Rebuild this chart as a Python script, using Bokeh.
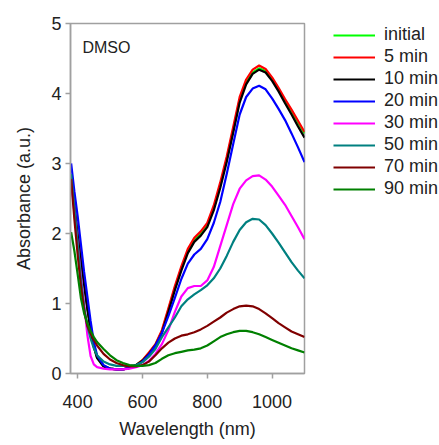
from bokeh.plotting import figure
from bokeh.layouts import row
from bokeh.models import Legend, LegendItem, Label, Range1d, FixedTicker
from bokeh.embed import file_html
from bokeh.resources import INLINE

wavelength = [380, 390, 400, 410, 420, 430, 440, 450, 460, 480, 500, 520, 540, 560, 580, 600,
              620, 640, 660, 680, 700, 720, 740, 760, 780, 800, 820, 840, 860, 880, 900, 920,
              940, 960, 980, 1000, 1020, 1040, 1060, 1080, 1100]

initial = [2.78, 2.38, 1.98, 1.63, 1.28, 0.93, 0.63, 0.39, 0.23, 0.11, 0.07, 0.06, 0.06, 0.08, 0.12, 0.19,
           0.29, 0.41, 0.60, 0.91, 1.22, 1.50, 1.75, 1.91, 2.00, 2.12, 2.36, 2.69, 3.06, 3.48, 3.91, 4.16,
           4.30, 4.36, 4.32, 4.21, 4.06, 3.90, 3.75, 3.59, 3.43]
min5 = [2.80, 2.40, 2.00, 1.65, 1.30, 0.95, 0.65, 0.40, 0.24, 0.11, 0.07, 0.06, 0.06, 0.08, 0.12, 0.19,
        0.30, 0.42, 0.62, 0.93, 1.25, 1.53, 1.78, 1.94, 2.03, 2.15, 2.40, 2.73, 3.10, 3.52, 3.95, 4.20,
        4.34, 4.40, 4.35, 4.23, 4.08, 3.92, 3.77, 3.61, 3.45]
min10 = [2.76, 2.36, 1.96, 1.61, 1.26, 0.92, 0.62, 0.38, 0.22, 0.10, 0.07, 0.06, 0.06, 0.08, 0.12, 0.18,
         0.28, 0.40, 0.58, 0.88, 1.19, 1.47, 1.72, 1.88, 1.97, 2.09, 2.33, 2.65, 3.02, 3.44, 3.87, 4.13,
         4.28, 4.34, 4.30, 4.18, 4.03, 3.86, 3.70, 3.53, 3.37]
min20 = [3.00, 2.60, 2.25, 1.85, 1.45, 1.10, 0.75, 0.45, 0.26, 0.12, 0.07, 0.06, 0.06, 0.08, 0.11, 0.17,
         0.27, 0.40, 0.58, 0.82, 1.08, 1.35, 1.57, 1.70, 1.78, 1.92, 2.15, 2.45, 2.85, 3.28, 3.70, 3.95,
         4.07, 4.11, 4.06, 3.93, 3.78, 3.62, 3.43, 3.23, 3.02]
min30 = [2.75, 2.30, 1.85, 1.40, 1.00, 0.55, 0.25, 0.13, 0.09, 0.07, 0.06, 0.06, 0.06, 0.07, 0.09, 0.12,
         0.18, 0.28, 0.42, 0.62, 0.88, 1.10, 1.22, 1.25, 1.25, 1.33, 1.52, 1.82, 2.12, 2.42, 2.64, 2.76,
         2.82, 2.83, 2.77, 2.67, 2.54, 2.41, 2.25, 2.09, 1.92]
min50 = [2.85, 2.35, 1.85, 1.35, 0.95, 0.68, 0.50, 0.36, 0.26, 0.17, 0.13, 0.11, 0.11, 0.11, 0.12, 0.16,
         0.24, 0.35, 0.52, 0.66, 0.80, 0.96, 1.06, 1.13, 1.19, 1.26, 1.36, 1.50, 1.68, 1.88, 2.05, 2.16,
         2.21, 2.20, 2.12, 2.00, 1.87, 1.73, 1.59, 1.47, 1.36]
min70 = [2.78, 2.20, 1.70, 1.25, 0.90, 0.68, 0.57, 0.48, 0.40, 0.28, 0.20, 0.15, 0.12, 0.10, 0.10, 0.12,
         0.17, 0.26, 0.36, 0.44, 0.50, 0.54, 0.56, 0.59, 0.63, 0.68, 0.74, 0.80, 0.87, 0.92, 0.96, 0.97,
         0.96, 0.92, 0.86, 0.79, 0.72, 0.66, 0.60, 0.56, 0.52]
min90 = [2.02, 1.75, 1.42, 1.08, 0.86, 0.72, 0.61, 0.52, 0.45, 0.35, 0.26, 0.19, 0.15, 0.12, 0.11, 0.11,
         0.12, 0.15, 0.21, 0.26, 0.29, 0.31, 0.33, 0.34, 0.36, 0.40, 0.46, 0.52, 0.56, 0.59, 0.61, 0.61,
         0.59, 0.56, 0.52, 0.48, 0.44, 0.40, 0.36, 0.33, 0.30]

series_labels = ["initial", "5 min", "10 min", "20 min", "30 min", "50 min", "70 min", "90 min"]
series_values = [initial, min5, min10, min20, min30, min50, min70, min90]
series_colors = ["#00ff00", "#ff0000", "#000000", "#0000ff", "#ff00ff", "#008080", "#800000", "#008000"]

x_ticks = [400, 600, 800, 1000]
y_ticks = [0, 1, 2, 3, 4, 5]

FONT = "Liberation Sans"
GRAY = "#a0a0a0"

p = figure(width=306, height=444, output_backend="svg", toolbar_location=None,
           x_range=Range1d(378, 1100), y_range=Range1d(0, 5),
           min_border_left=70, min_border_right=2, min_border_top=23, min_border_bottom=71)

p.xgrid.visible = False
p.ygrid.visible = False
p.outline_line_color = GRAY
p.outline_line_width = 1.5
p.background_fill_color = "white"
p.border_fill_color = "white"

for ax in (p.xaxis[0], p.yaxis[0]):
    ax.axis_line_color = GRAY
    ax.axis_line_width = 1.5
    ax.major_tick_line_color = GRAY
    ax.major_tick_line_width = 1.5
    ax.major_tick_out = 5
    ax.major_tick_in = 0
    ax.minor_tick_line_color = None
    ax.major_label_text_font = FONT
    ax.major_label_text_font_size = "18px"
    ax.major_label_text_color = "#222222"
    ax.axis_label_text_font = FONT
    ax.axis_label_text_font_size = "18px"
    ax.axis_label_text_font_style = "normal"
    ax.axis_label_text_color = "#222222"

p.xaxis.ticker = FixedTicker(ticks=x_ticks)
p.yaxis.ticker = FixedTicker(ticks=y_ticks)
p.xaxis.axis_label = "Wavelength (nm)"
p.yaxis.axis_label = "Absorbance (a.u.)"
p.xaxis.major_label_standoff = 16
p.xaxis.axis_label_standoff = 8
p.yaxis.major_label_standoff = 4
p.yaxis.axis_label_standoff = 14

for vals, col in zip(series_values, series_colors):
    p.line(wavelength, vals, line_color=col, line_width=2.2)

p.add_layout(Label(x=415, y=4.66, text="DMSO", text_font=FONT, text_font_size="16px",
                   text_color="#222222", text_baseline="alphabetic"))

# legend panel to the right of the plot (its frame is aligned with the plot frame)
pl = figure(width=132, height=444, output_backend="svg", toolbar_location=None,
            x_range=Range1d(0, 1), y_range=Range1d(0, 1),
            x_axis_location=None, y_axis_location=None, min_border=0)
pl.xgrid.visible = False
pl.ygrid.visible = False
pl.outline_line_color = None
pl.background_fill_color = "white"
pl.border_fill_color = "white"

items = []
for lab, vals, col in zip(series_labels, series_values, series_colors):
    # same series, outside this panel's view: only used for the legend swatch
    r = pl.line(wavelength, vals, line_color=col, line_width=2.2)
    items.append(LegendItem(label=lab, renderers=[r]))

legend = Legend(items=items, location=(27, 174), orientation="vertical",
                label_text_font=FONT, label_text_font_size="18px", label_text_color="#222222",
                glyph_width=42, glyph_height=14, label_height=14, label_standoff=9,
                spacing=1, padding=0, margin=0,
                border_line_color=None, background_fill_alpha=0)
pl.add_layout(legend, "center")

layout = row(p, pl, spacing=0)

open("out.html", "w").write(file_html(layout, INLINE))
